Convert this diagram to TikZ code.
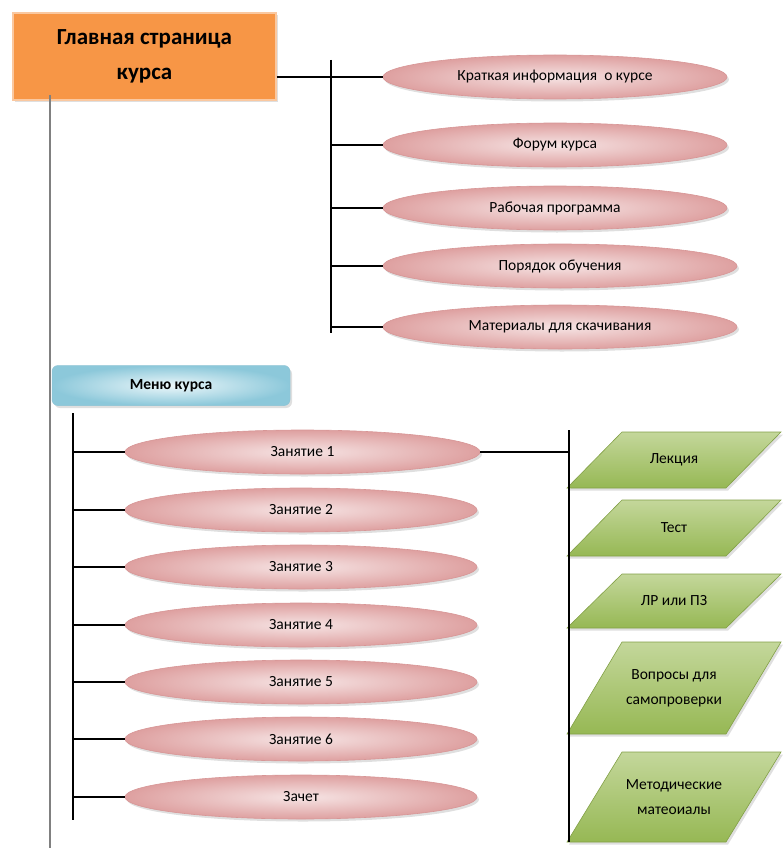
\documentclass[tikz,border=0pt]{standalone}
\usepackage{fontspec}
\setmainfont{Carlito}
\usetikzlibrary{shapes.geometric,shadows,calc}
\definecolor{orfill}{RGB}{247,150,70}
\definecolor{ordraw}{RGB}{250,200,160}
\definecolor{pinkin}{RGB}{246,228,228}
\definecolor{pinkout}{RGB}{222,160,160}
\definecolor{pinkdraw}{RGB}{215,150,150}
\definecolor{bluein}{RGB}{236,247,250}
\definecolor{blueout}{RGB}{140,200,218}
\definecolor{bluedraw}{RGB}{140,195,212}
\definecolor{greentop}{RGB}{196,215,155}
\definecolor{greenbot}{RGB}{150,184,84}
\definecolor{greendraw}{RGB}{130,160,70}
\definecolor{trunk}{RGB}{128,128,128}
\newcommand\greenpara[4]{%
  \shade[parashape] (567,#3) -- (622,#2) -- (781,#2) -- (726,#3) -- cycle;
  \node[paratext] (#1) at (674,{(#2+#3)/2}) {#4};}
\begin{document}
\begin{tikzpicture}[x=1pt,y=-1pt,
  soft/.style={drop shadow={opacity=0.25,shadow xshift=2pt,shadow yshift=-2.5pt}},
  mainbox/.style={rectangle,draw=ordraw,line width=1.2pt,fill=orfill,soft,
    minimum width=263pt,minimum height=87pt,align=center,
    font=\bfseries\fontsize{23}{35}\selectfont},
  menubox/.style={rectangle,rounded corners=6pt,draw=bluedraw,line width=0.5pt,
    shading=radial,inner color=bluein,outer color=blueout,soft,
    minimum width=238pt,minimum height=40pt,font=\bfseries\fontsize{15.5}{18}\selectfont},
  oval/.style={ellipse,draw=pinkdraw,line width=0.6pt,shading=radial,inner color=pinkin,outer color=pinkout,
    soft,minimum height=44pt,inner sep=0pt,font=\fontsize{15.5}{18}\selectfont},
  parashape/.style={draw=greendraw,line width=0.6pt,top color=greentop,bottom color=greenbot,soft},
  paratext/.style={inner sep=0pt,align=center,font=\fontsize{15.5}{25}\selectfont},
  link/.style={draw=black,line width=1.2pt},
  trunkline/.style={draw=trunk,line width=2pt}
]
\useasboundingbox (0,0) rectangle (783,848);

% main box
\node[mainbox] (main) at (144.5,56.5) {Главная страница\\курса};
\coordinate (g0) at (50,95);
\coordinate (g1) at (50,848);
\draw[trunkline] (g0) -- (g1);

% upper ellipses
\node[oval,minimum width=344pt] (e1) at (555,77) {Краткая информация \ о курсе};
\node[oval,minimum width=344pt] (e2) at (555,145) {Форум курса};
\node[oval,minimum width=344pt] (e3) at (555,208) {Рабочая программа};
\node[oval,minimum width=354pt] (e4) at (560,266) {Порядок обучения};
\node[oval,minimum width=354pt] (e5) at (560,327) {Материалы для скачивания};
\coordinate (v1t) at (331,60);
\coordinate (v1b) at (331,333);
\draw[link] (v1t) -- (v1b);
\draw[link] (main.east |- e1.west) -- (e1.west);
\foreach \e in {e2,e3,e4,e5} \draw[link] (v1t |- \e.west) -- (\e.west);

% menu
\node[menubox] (menu) at (171,385.5) {Меню курса};

% lessons
\node[oval,minimum width=355pt] (z1) at (302.5,452) {Занятие 1};
\node[oval,minimum width=352pt] (z2) at (301,510) {Занятие 2};
\node[oval,minimum width=352pt] (z3) at (301,567) {Занятие 3};
\node[oval,minimum width=352pt] (z4) at (301,625) {Занятие 4};
\node[oval,minimum width=352pt] (z5) at (301,682) {Занятие 5};
\node[oval,minimum width=352pt] (z6) at (301,739) {Занятие 6};
\node[oval,minimum width=352pt] (z7) at (301,797) {Зачет};
\coordinate (v2t) at (73,413);
\coordinate (v2b) at (73,820);
\draw[link] (v2t) -- (v2b);
\foreach \e in {z1,z2,z3,z4,z5,z6,z7} \draw[link] (v2t |- \e.west) -- (\e.west);

% lesson 1 parts
\greenpara{p1}{432}{488}{Лекция}
\greenpara{p2}{500}{556}{Тест}
\greenpara{p3}{574}{628}{ЛР или ПЗ}
\greenpara{p4}{642}{734}{Вопросы для\\самопроверки}
\greenpara{p5}{752}{842}{Методические\\матеоиалы}
\coordinate (v3t) at (569,430);
\coordinate (v3b) at (569,842);
\draw[link] (v3t) -- (v3b);
\draw[link] (z1.east) -- (v3t |- z1.east);
\end{tikzpicture}
\end{document}
